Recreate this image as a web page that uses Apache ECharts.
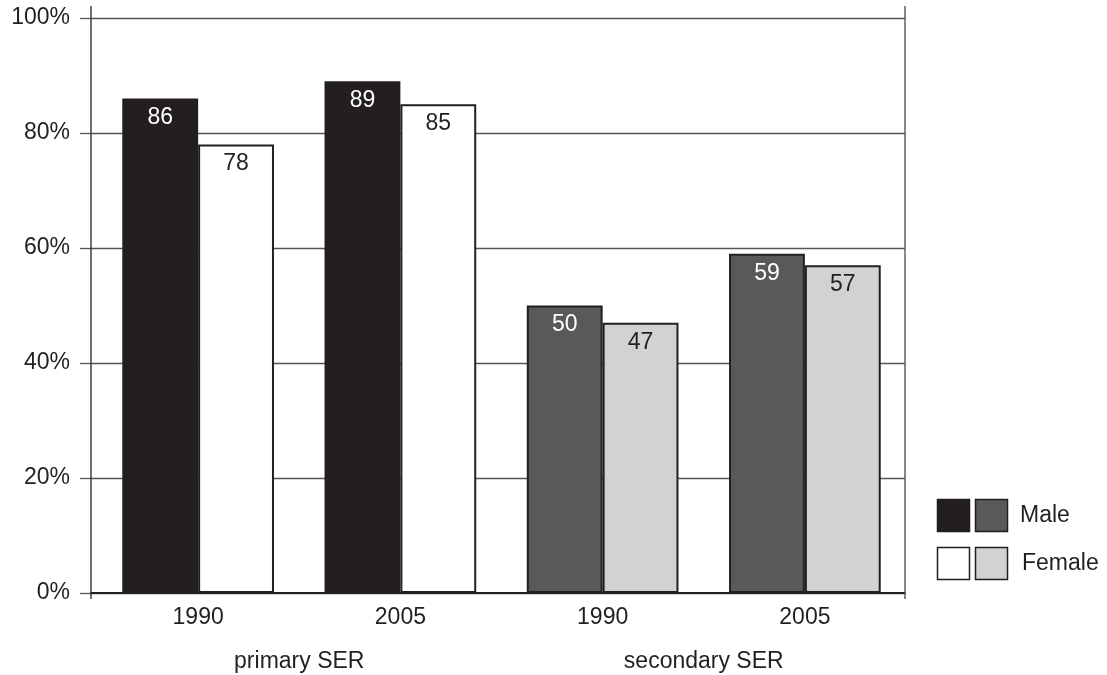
<!DOCTYPE html>
<html>
<head>
<meta charset="utf-8">
<script src="https://cdn.jsdelivr.net/npm/echarts@6/dist/echarts.min.js"></script>
<style>
html,body{margin:0;padding:0;background:#fff;}
#chart{width:1107px;height:675px;}
</style>
</head>
<body>
<div id="chart"></div>
<script>
// ---- data ----
var categories = ['1990', '2005', '1990', '2005'];
var groups = ['primary SER', 'secondary SER'];
var maleValues = [86, 89, 50, 59];
var femaleValues = [78, 85, 47, 57];
var yTicks = [0, 20, 40, 60, 80, 100];

// ---- styles ----
var FONT = '"Liberation Sans", Arial, Helvetica, sans-serif';
var INK = '#231f20';
var maleFill = ['#231f20', '#231f20', '#58595b', '#58595b'];
var femaleFill = ['#ffffff', '#ffffff', '#d1d2d4', '#d1d2d4'];
var maleLabel = ['#ffffff', '#ffffff', '#ffffff', '#ffffff'];
var femaleLabel = [INK, INK, INK, INK];

function build(values, fills, labelColors) {
  return values.map(function (v, i) {
    return {
      value: v,
      itemStyle: { color: fills[i] },
      label: { color: labelColors[i] }
    };
  });
}

var chart = echarts.init(document.getElementById('chart'), null, { renderer: 'canvas' });

var barLabel = {
  show: true,
  position: 'insideTop',
  distance: 8,
  fontFamily: FONT,
  fontSize: 23
};
var barStyle = { borderColor: INK, borderWidth: 2 };
var yMin = yTicks[0], yMax = yTicks[yTicks.length - 1], yStep = yTicks[1] - yTicks[0];

chart.setOption({
  animation: false,
  backgroundColor: '#ffffff',
  textStyle: { fontFamily: FONT },
  grid: [
    // frame grid: y axis ticks, labels, gridlines, baseline
    { left: 91, right: 202, top: 18, bottom: 82, containLabel: false },
    // bar grid
    { left: 97, right: 201, top: 18, bottom: 82, containLabel: false }
  ],
  xAxis: [
    {
      type: 'value', gridIndex: 0, min: 0, max: 1,
      axisLine: { show: true, onZero: false, lineStyle: { color: INK, width: 2 } },
      axisTick: { show: false },
      axisLabel: { show: false },
      splitLine: { show: false }
    },
    {
      type: 'category', gridIndex: 1,
      data: categories,
      position: 'bottom',
      axisLine: { show: false },
      axisTick: { show: false },
      axisLabel: { color: INK, fontFamily: FONT, fontSize: 23, margin: 13 },
      splitLine: { show: false }
    },
    {
      type: 'category', gridIndex: 1,
      data: groups,
      position: 'bottom',
      axisLine: { show: false },
      axisTick: { show: false },
      axisLabel: { color: INK, fontFamily: FONT, fontSize: 23, margin: 57 },
      splitLine: { show: false }
    }
  ],
  yAxis: [
    {
      type: 'value', gridIndex: 0,
      min: yMin, max: yMax, interval: yStep,
      axisLine: { show: false },
      axisTick: { show: true, length: 11, lineStyle: { color: '#555', width: 1.3 } },
      axisLabel: {
        color: INK, fontFamily: FONT, fontSize: 23, margin: 21,
        formatter: function (v) { return v + '%'; }
      },
      splitLine: { show: true, lineStyle: { color: '#555', width: 1.3 } }
    },
    {
      type: 'value', gridIndex: 1,
      min: yMin, max: yMax, interval: yStep,
      show: false,
      splitLine: { show: false }
    }
  ],
  series: [
    {
      name: 'Male', type: 'bar', xAxisIndex: 1, yAxisIndex: 1,
      data: build(maleValues, maleFill, maleLabel),
      barGap: '0%', barCategoryGap: '25%',
      itemStyle: barStyle, label: barLabel
    },
    {
      name: 'Female', type: 'bar', xAxisIndex: 1, yAxisIndex: 1,
      data: build(femaleValues, femaleFill, femaleLabel),
      barGap: '0%', barCategoryGap: '25%',
      itemStyle: barStyle, label: barLabel
    }
  ],
  graphic: [
    { type: 'line', shape: { x1: 91, y1: 6, x2: 91, y2: 599 }, style: { stroke: '#333', lineWidth: 1.4 }, z: 10 },
    { type: 'line', shape: { x1: 905, y1: 6, x2: 905, y2: 599 }, style: { stroke: '#555', lineWidth: 1.4 }, z: 10 },
    // legend
    { type: 'rect', shape: { x: 937.5, y: 499.5, width: 32, height: 32 }, style: { fill: '#231f20', stroke: INK, lineWidth: 1.5 } },
    { type: 'rect', shape: { x: 975.5, y: 499.5, width: 32, height: 32 }, style: { fill: '#58595b', stroke: INK, lineWidth: 1.5 } },
    { type: 'rect', shape: { x: 937.5, y: 547.5, width: 32, height: 32 }, style: { fill: '#ffffff', stroke: INK, lineWidth: 1.5 } },
    { type: 'rect', shape: { x: 975.5, y: 547.5, width: 32, height: 32 }, style: { fill: '#d1d2d4', stroke: INK, lineWidth: 1.5 } },
    { type: 'text', x: 1020, y: 516, style: { text: 'Male', fill: INK, font: '23px ' + FONT, textVerticalAlign: 'middle', verticalAlign: 'middle' } },
    { type: 'text', x: 1022, y: 564, style: { text: 'Female', fill: INK, font: '23px ' + FONT, textVerticalAlign: 'middle', verticalAlign: 'middle' } }
  ]
});
</script>
</body>
</html>
